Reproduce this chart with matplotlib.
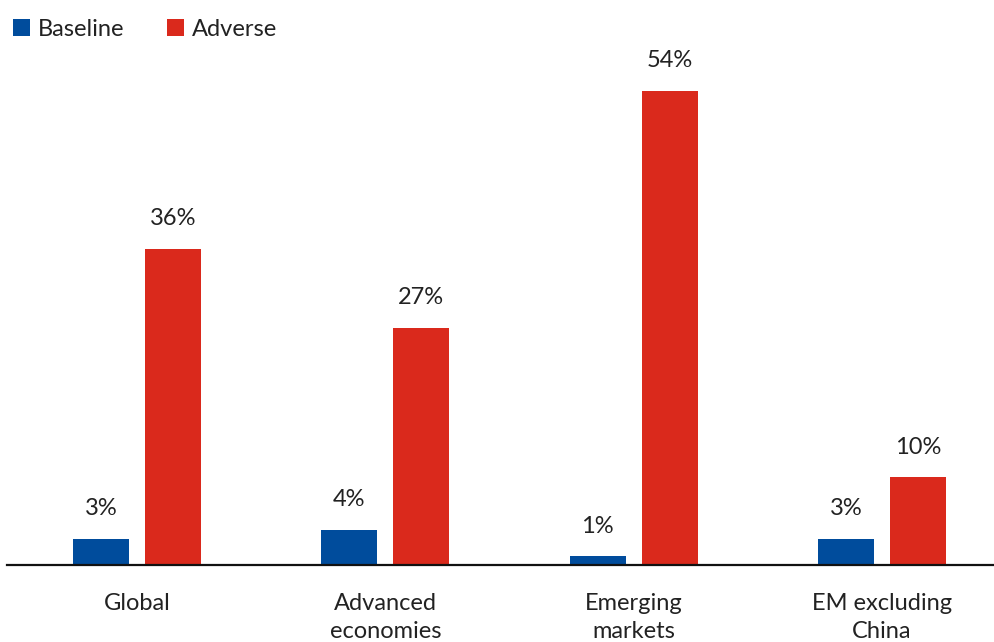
import matplotlib
matplotlib.use("Agg")
import matplotlib.pyplot as plt
import numpy as np

categories = ["Global", "Advanced\neconomies", "Emerging\nmarkets", "EM excluding\nChina"]
baseline = [3, 4, 1, 3]
adverse = [36, 27, 54, 10]
series_names = ["Baseline", "Adverse"]

BLUE = "#004C9C"
RED = "#DA291C"
TEXT = "#222222"

plt.rcParams["font.family"] = ["Lato", "DejaVu Sans"]

W, H = 994, 642
fig = plt.figure(figsize=(W / 100, H / 100), dpi=100)
# axes placed in pixel terms: zero line at y=565, top at y=60
ax = fig.add_axes([7 / W, (H - 565) / H, (W - 7) / W, (565 - 60) / H])

x = np.arange(len(categories))
width = 0.2255
off = 0.145
b1 = ax.bar(x - off, baseline, width, color=BLUE, label=series_names[0])
b2 = ax.bar(x + off, adverse, width, color=RED, label=series_names[1])

for bars, vals in ((b1, baseline), (b2, adverse)):
    for rect, v in zip(bars, vals):
        ax.annotate(f"{v}%", (rect.get_x() + rect.get_width() / 2, v),
                    xytext=(0, 14), textcoords="offset points",
                    ha="center", va="bottom", fontsize=17, color=TEXT)

ax.set_xlim(-0.5236, 3.451)
ax.set_ylim(0, 57.5)
ax.set_xticks(x)
ax.set_xticklabels(categories, fontsize=17, color=TEXT, linespacing=1.4)
ax.tick_params(axis="x", length=0, pad=20.5)
ax.set_yticks([])
for s in ("top", "right", "left"):
    ax.spines[s].set_visible(False)
ax.spines["bottom"].set_linewidth(1.6)
ax.spines["bottom"].set_color("#111111")

fig.legend(handles=[b1, b2], loc="upper left",
           bbox_to_anchor=(13 / W, 1 - 19 / H),
           ncol=2, frameon=False, fontsize=17, handlelength=0.72,
           handleheight=0.72, handletextpad=0.34, columnspacing=1.8,
           labelcolor=TEXT, borderaxespad=0, borderpad=0)

fig.savefig("out.png", dpi=100)
